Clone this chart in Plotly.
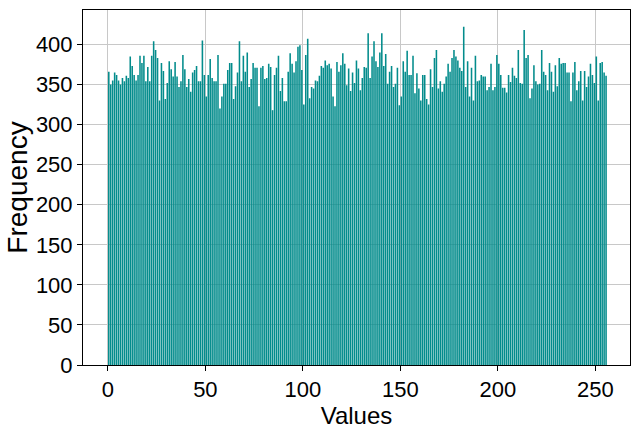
import plotly.graph_objects as go

values_0 = [366, 350, 355, 365, 362, 355, 350, 358, 354, 361, 358, 385, 373, 362, 355, 362,
            386, 377, 386, 354, 372, 354, 386, 404, 393, 383, 330, 377, 367, 332, 352, 379,
            369, 360, 378, 360, 347, 354, 387, 369, 347, 357, 341, 365, 368, 373, 354, 354,
            405, 362, 335, 362, 382, 358, 354, 354, 387, 320, 335, 351, 351, 368, 377]
values_1 = [377, 332, 348, 365, 404, 354, 386, 366, 390, 347, 357, 377, 371, 371, 323, 371,
            373, 357, 358, 376, 372, 318, 362, 371, 386, 342, 358, 329, 329, 366, 389, 376,
            365, 379, 397, 399, 368, 325, 387, 407, 333, 347, 345, 355, 354, 361, 373, 371,
            380, 374, 376, 370, 335, 323, 378, 366, 374, 389, 376, 349, 370, 342, 365, 352, 380]
values_2 = [370, 343, 358, 372, 371, 414, 358, 385, 404, 379, 372, 390, 414, 373, 388, 351,
            366, 373, 347, 351, 371, 324, 335, 379, 366, 392, 362, 362, 386, 339, 364, 345,
            330, 362, 362, 332, 325, 369, 347, 383, 393, 345, 354, 341, 351, 360, 376, 366,
            383, 393, 385, 380, 371, 367, 422, 347, 379, 335, 371, 330, 386, 354, 355, 362, 360]
values_3 = [360, 343, 347, 376, 343, 347, 387, 376, 362, 346, 346, 340, 362, 353, 371, 361,
            358, 393, 352, 351, 418, 383, 387, 333, 345, 374, 354, 350, 351, 393, 366, 362,
            343, 377, 366, 341, 374, 348, 383, 376, 377, 377, 365, 365, 329, 365, 378, 343,
            354, 367, 330, 367, 347, 360, 376, 362, 352, 385, 330, 377, 378, 365, 361]

frequencies = values_0 + values_1 + values_2 + values_3
categories = list(range(len(frequencies)))

x_ticks = [0, 50, 100, 150, 200, 250]
y_ticks = [0, 50, 100, 150, 200, 250, 300, 350, 400]

FONT = "Liberation Sans, Arial, sans-serif"

fig = go.Figure()
fig.add_trace(go.Bar(
    x=categories,
    y=frequencies,
    width=0.8,
    offset=0.08,
    marker=dict(color="rgba(0,139,139,0.99)", line=dict(width=0)),
    showlegend=False,
))

axis_common = dict(
    showline=True, linecolor="black", linewidth=1, mirror=True,
    ticks="outside", ticklen=5, tickcolor="black", tickwidth=1,
    showgrid=True, gridcolor="#c8c8c8", gridwidth=1,
    zeroline=False, automargin=False,
    tickfont=dict(family=FONT, size=22, color="black"),
    layer="above traces",
)

fig.update_layout(
    width=633, height=429,
    margin=dict(l=83, r=3, t=10, b=64),
    paper_bgcolor="white", plot_bgcolor="white",
    bargap=0.2,
    xaxis=dict(range=[-12.75, 267.75], tickvals=x_ticks,
               title=dict(text="Values", font=dict(family=FONT, size=24, color="black"), standoff=2),
               **axis_common),
    yaxis=dict(range=[0, 443], tickvals=y_ticks,
               title=dict(text="Frequency", font=dict(family=FONT, size=28, color="black"), standoff=0),
               **axis_common),
)

post = (
    "document.body.style.margin='0';document.body.style.overflow='hidden';"
    "document.querySelectorAll('.bars path, .point path').forEach(function(p){"
    "p.style.shapeRendering='geometricPrecision';});"
)
fig.write_html("out.html", config={"displayModeBar": False, "staticPlot": True}, post_script=post)
